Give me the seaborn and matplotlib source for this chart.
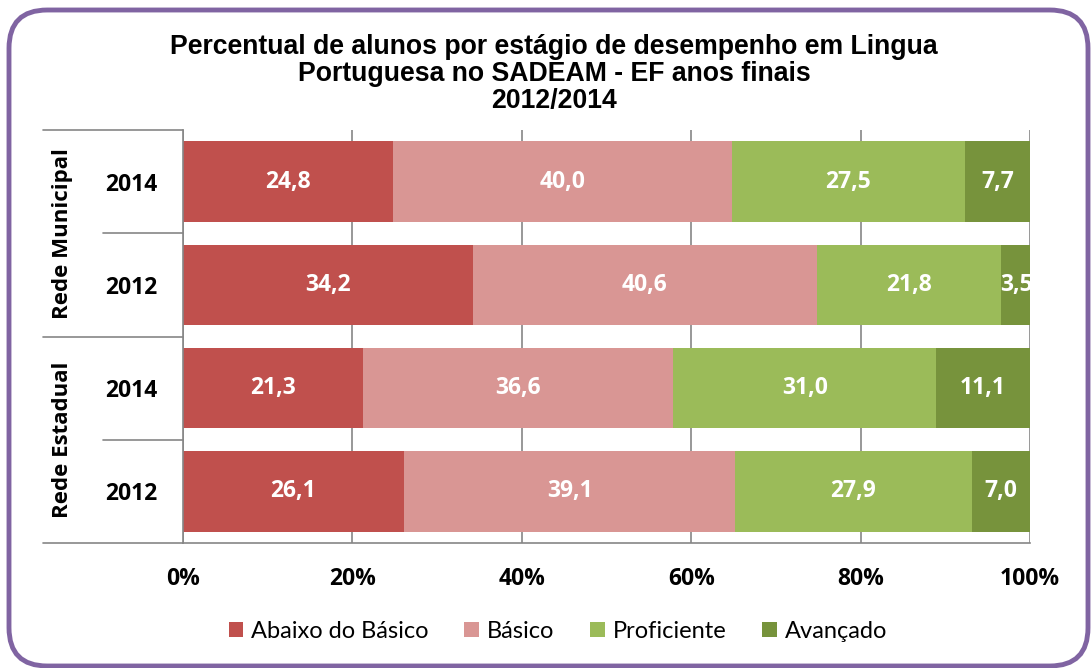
import matplotlib
matplotlib.use("Agg")
import matplotlib.pyplot as plt
import seaborn as sns
import pandas as pd
import numpy as np
from matplotlib.patches import FancyBboxPatch, Patch
from matplotlib.lines import Line2D

# ---- data ----
networks = ["Rede Municipal", "Rede Municipal", "Rede Estadual", "Rede Estadual"]
years = ["2014", "2012", "2014", "2012"]
stages = ["Abaixo do Básico", "Básico", "Proficiente", "Avançado"]
abaixo = [24.8, 34.2, 21.3, 26.1]
basico = [40.0, 40.6, 36.6, 39.1]
proficiente = [27.5, 21.8, 31.0, 27.9]
avancado = [7.7, 3.5, 11.1, 7.0]
colors = ["#C0504D", "#D99694", "#9BBB59", "#77933C"]
x_ticks = [0, 20, 40, 60, 80, 100]
title = "Percentual de alunos por estágio de desempenho em Lingua\nPortuguesa no SADEAM - EF anos finais\n2012/2014"

rows = [f"{n} {y}" for n, y in zip(networks, years)]
values = np.array([abaixo, basico, proficiente, avancado])  # stage x row
cum = np.cumsum(values, axis=0)

df = pd.DataFrame({"row": rows})
for i, s in enumerate(stages):
    df[s] = values[i]
    df[s + "_cum"] = cum[i]

sns.set_theme(style="white")
plt.rcParams["font.family"] = ["Lato", "DejaVu Sans"]
plt.rcParams["text.color"] = "black"
BOLD = ["Open Sans", "DejaVu Sans"]

W, H = 1092, 668
fig = plt.figure(figsize=(W / 100, H / 100), dpi=100)
ax = fig.add_axes([183 / W, 1 - 543 / H, (1030 - 183) / W, (543 - 130) / H])

# draw cumulative bars from the total down
for i in reversed(range(len(stages))):
    sns.barplot(data=df, x=stages[i] + "_cum", y="row", order=rows, orient="y",
                color=colors[i], saturation=1, width=0.78, linewidth=0,
                edgecolor="none", ax=ax, zorder=2)

# data labels
for i in range(len(stages)):
    for j in range(len(rows)):
        v = values[i][j]
        center = cum[i][j] - v / 2
        ax.text(center, j, f"{v:.1f}".replace(".", ","), ha="center", va="center",
                color="white", fontsize=16.5, fontweight="bold", family=BOLD,
                zorder=5, clip_on=False)

ax.set_xlim(0, 100)
ax.set_ylim(3.5, -0.5)
ax.set_xlabel("")
ax.set_ylabel("")
ax.set_xticks(x_ticks)
ax.set_xticklabels([f"{t}%" for t in x_ticks], fontsize=16.5, fontweight="bold",
                   color="black", family=BOLD)
ax.set_yticks(range(len(rows)))
ax.set_yticklabels(years, fontsize=16.5, fontweight="bold", color="black", family=BOLD)
for lab in ax.get_yticklabels():
    lab.set_ha("center")
ax.tick_params(axis="y", length=0, pad=37)
ax.tick_params(axis="x", length=7, width=1.2, color="#868686", direction="out", pad=10)

ax.xaxis.grid(True, color="#868686", lw=1.2, zorder=0)
ax.yaxis.grid(False)
ax.set_axisbelow(True)
for s in ["top", "right"]:
    ax.spines[s].set_visible(False)
for s in ["left", "bottom"]:
    ax.spines[s].set_color("#868686")
    ax.spines[s].set_linewidth(1.2)

# category separators on the left
x_full = (43 - 183) / (1030 - 183)
x_short = (103 - 183) / (1030 - 183)
for yv, x0 in [(1.0, x_full), (0.75, x_short), (0.5, x_full), (0.25, x_short), (0.0, x_full)]:
    ax.add_line(Line2D([x0, 0], [yv, yv], transform=ax.transAxes, color="#868686",
                       lw=1.2, clip_on=False))

# group labels
gx = (63 - 183) / (1030 - 183)
ax.text(gx, 0.75, "Rede Municipal", transform=ax.transAxes, rotation=90,
        ha="center", va="center", fontsize=16, fontweight="bold", color="black", family=BOLD)
ax.text(gx, 0.25, "Rede Estadual", transform=ax.transAxes, rotation=90,
        ha="center", va="center", fontsize=16, fontweight="bold", color="black", family=BOLD)

# title
fig.text(554 / W, 1 - 74 / H, title, ha="center", va="center", fontsize=19.2,
         fontweight="bold", color="black", family=["Liberation Sans", "DejaVu Sans"],
         linespacing=1.07)

# legend
handles = [Patch(facecolor=c, edgecolor="none") for c in colors]
leg = fig.legend(handles, stages, loc="center", bbox_to_anchor=(558 / W, 1 - 631 / H), ncol=4,
                 frameon=False, fontsize=17, handlelength=0.62, handleheight=0.62,
                 handletextpad=0.35, columnspacing=1.5)
for t in leg.get_texts():
    t.set_color("black")

# rounded border
border = FancyBboxPatch((9 / W, 2 / H), (1088 - 9) / W, (658 - 2) / H,
                        boxstyle="round,pad=0,rounding_size=0.035",
                        transform=fig.transFigure, facecolor="none",
                        edgecolor="#8064A2", lw=3.5, mutation_aspect=W / H)
fig.patches.append(border)

fig.savefig("out.png", dpi=100)
